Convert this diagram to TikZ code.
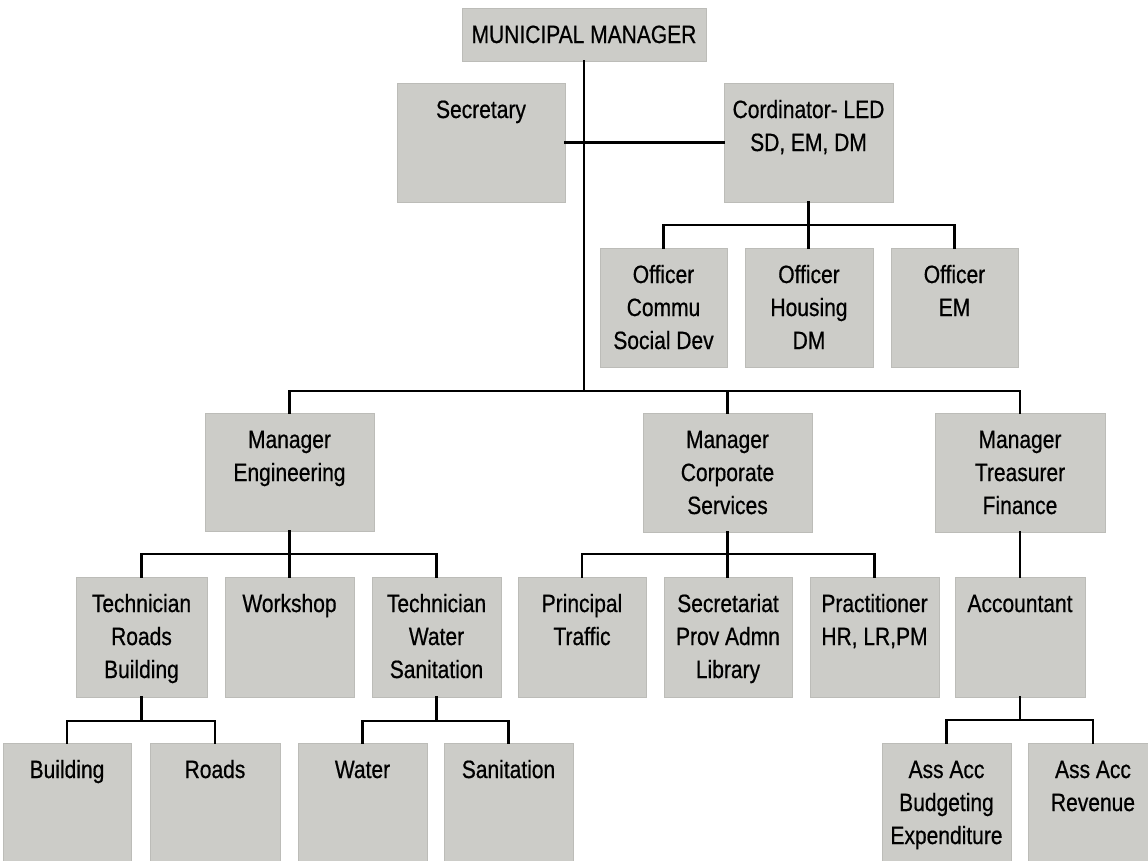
\documentclass[tikz,border=0pt]{standalone}
\usepackage{fontspec}
\setmainfont{Liberation Sans}[FakeStretch=0.84,FakeBold=0.6]
\newlength\pxu
\setlength\pxu{0.75pt}
\definecolor{boxgray}{RGB}{204,204,200}
\definecolor{boxedge}{RGB}{188,188,184}
\newcommand\bxtext[3]{\parbox[c][#2\pxu][t]{#1\pxu}{\centering\fontsize{18.75pt}{24.75pt}\selectfont\rule{0pt}{26.25pt}#3\par}}
\tikzset{
  orgbox/.style={fill=boxgray, draw=boxedge, line width=0.4pt, inner sep=0pt, outer sep=0pt, anchor=north west, text=black},
  link/.style={draw=black, line width=1.6pt, line cap=rect}
}
\begin{document}
\begin{tikzpicture}[x=0.75pt, y=-0.75pt]
\useasboundingbox (0,0) rectangle (1148,860);
\clip (0,0) rectangle (1148,860);
\fill[white] (0,0) rectangle (1148,860);
% boxes
\node[orgbox] (mm) at (462,8) {\bxtext{244}{53}{MUNICIPAL MANAGER}};
\node[orgbox] (sec) at (397,83) {\bxtext{168}{119}{Secretary}};
\node[orgbox] (cord) at (724,83) {\bxtext{169}{119}{Cordinator- LED\\SD, EM, DM}};
\node[orgbox] (off1) at (600,248) {\bxtext{127}{119}{Officer\\Commu\\Social Dev}};
\node[orgbox] (off2) at (745,248) {\bxtext{128}{119}{Officer\\Housing\\DM}};
\node[orgbox] (off3) at (891,248) {\bxtext{127}{119}{Officer\\EM}};
\node[orgbox] (eng) at (205,413) {\bxtext{169}{118}{Manager\\Engineering}};
\node[orgbox] (corp) at (643,413) {\bxtext{169}{119}{Manager\\Corporate\\Services}};
\node[orgbox] (treas) at (935,413) {\bxtext{170}{119}{Manager\\Treasurer\\Finance}};
\node[orgbox] (techr) at (76,577) {\bxtext{131}{120}{Technician\\Roads\\Building}};
\node[orgbox] (works) at (225,577) {\bxtext{129}{120}{Workshop}};
\node[orgbox] (techw) at (372,577) {\bxtext{129}{120}{Technician\\Water\\Sanitation}};
\node[orgbox] (princ) at (518,577) {\bxtext{128}{120}{Principal\\Traffic}};
\node[orgbox] (secr) at (664,577) {\bxtext{128}{120}{Secretariat\\Prov Admn\\Library}};
\node[orgbox] (pract) at (810,577) {\bxtext{129}{120}{Practitioner\\HR, LR,PM}};
\node[orgbox] (acc) at (955,577) {\bxtext{130}{120}{Accountant}};
\node[orgbox] (bld) at (3,743) {\bxtext{128}{120}{Building}};
\node[orgbox] (rds) at (150,743) {\bxtext{130}{120}{Roads}};
\node[orgbox] (wat) at (298,743) {\bxtext{129}{120}{Water}};
\node[orgbox] (san) at (444,743) {\bxtext{129}{120}{Sanitation}};
\node[orgbox] (aa1) at (882,743) {\bxtext{129}{120}{Ass Acc\\Budgeting\\Expenditure}};
\node[orgbox] (aa2) at (1028,743) {\bxtext{130}{120}{Ass Acc\\Revenue}};
% connectors
\coordinate (trunkend) at (mm.south |- 0,391);
\draw[link] (mm.south) -- (trunkend);
\draw[link] (sec.east) -- (cord.west);
\draw[link] (cord.south) -- (cord.south |- off2.north);
\draw[link] (off1.north) -- ++(0,-23) -| (off3.north);
\draw[link] (eng.north) -- ++(0,-22) -| (treas.north);
\draw[link] (corp.north) -- ++(0,-22);
\draw[link] (eng.south) -- (eng.south |- works.north);
\draw[link] (techr.north) -- ++(0,-23) -| (techw.north);
\draw[link] (corp.south) -- (corp.south |- secr.north);
\draw[link] (princ.north) -- ++(0,-23) -| (pract.north);
\draw[link] (treas.south) -- (treas.south |- acc.north);
\draw[link] (techr.south) -- ++(0,24);
\draw[link] (bld.north) -- ++(0,-22) -| (rds.north);
\draw[link] (techw.south) -- ++(0,24);
\draw[link] (wat.north) -- ++(0,-22) -| (san.north);
\draw[link] (acc.south) -- ++(0,23);
\draw[link] (aa1.north) -- ++(0,-23) -| (aa2.north);
\end{tikzpicture}
\end{document}
